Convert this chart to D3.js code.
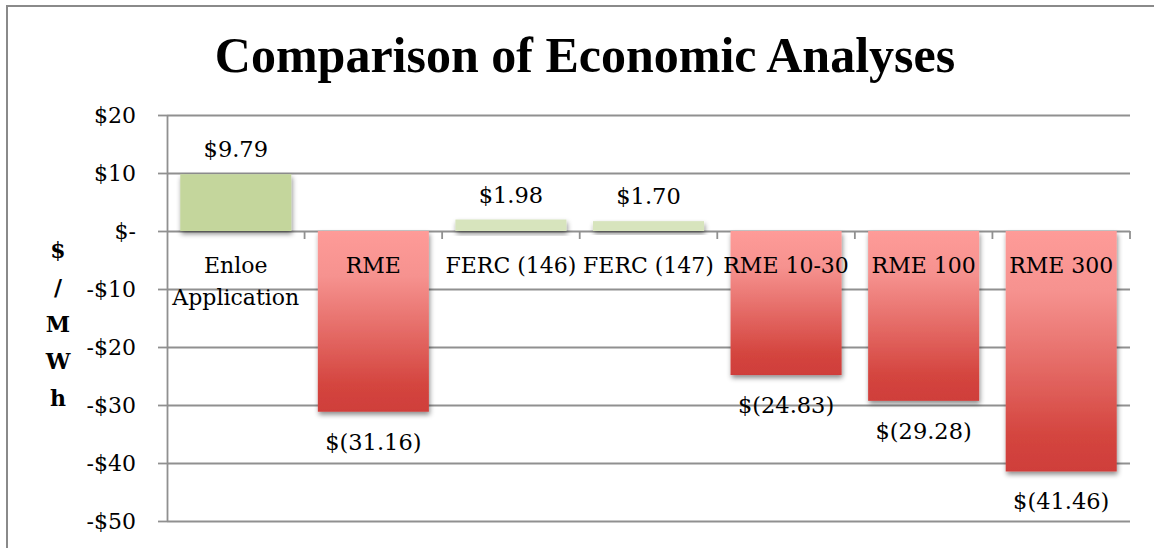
<!DOCTYPE html>
<html>
<head>
<meta charset="utf-8">
<script src="https://cdn.jsdelivr.net/npm/d3@7"></script>
<style>
  body { margin: 0; background: #fff; }
  text { font-family: "DejaVu Serif", serif; fill: #000; }
</style>
</head>
<body>
<div id="chart"></div>
<script>
////// DATA
var categories = ["Enloe\nApplication", "RME", "FERC (146)", "FERC (147)", "RME 10-30", "RME 100", "RME 300"];
var values = [9.79, -31.16, 1.98, 1.70, -24.83, -29.28, -41.46];
var yTicks = [20, 10, 0, -10, -20, -30, -40, -50];
var titleText = "Comparison of Economic Analyses";
var yTitleLetters = ["$", "/", "M", "W", "h"];

////// SETUP SVG
var W = 1154, H = 548;
var margin = { top: 115, right: 24, bottom: 27, left: 167 },
    width = W - margin.left - margin.right,
    height = H - margin.top - margin.bottom;

var svg = d3.select("#chart")
    .append("svg")
    .attr("width", W)
    .attr("height", H);

var defs = svg.append("defs");

// red gradient for negative bars
var grad = defs.append("linearGradient")
    .attr("id", "redGrad")
    .attr("x1", 0).attr("y1", 0).attr("x2", 0).attr("y2", 1);
grad.append("stop").attr("offset", "0%").attr("stop-color", "#fe9b98");
grad.append("stop").attr("offset", "25%").attr("stop-color", "#f6928f");
grad.append("stop").attr("offset", "85%").attr("stop-color", "#d4453f");
grad.append("stop").attr("offset", "100%").attr("stop-color", "#cf3e3a");

// soft shadow under bars
var shadow = defs.append("filter")
    .attr("id", "shadow")
    .attr("x", "-20%").attr("y", "-20%")
    .attr("width", "140%").attr("height", "160%");
shadow.append("feDropShadow")
    .attr("dx", 1).attr("dy", 3)
    .attr("stdDeviation", 2.5)
    .attr("flood-color", "#000")
    .attr("flood-opacity", 0.45);

// outer frame
svg.append("rect")
    .attr("x", 7).attr("y", 6)
    .attr("width", 1170).attr("height", 580)
    .attr("fill", "none")
    .attr("stroke", "#8a8a8a")
    .attr("stroke-width", 2);

// title
svg.append("text")
    .attr("x", 585).attr("y", 72)
    .attr("text-anchor", "middle")
    .style("font-family", "'Liberation Serif', serif")
    .style("font-weight", "bold")
    .style("font-size", "50px")
    .text(titleText);

var g = svg.append("g")
    .attr("transform", "translate(" + margin.left + "," + margin.top + ")");

////// SCALES
var x = d3.scaleBand()
    .domain(categories)
    .range([0, width])
    .paddingInner(0.193)
    .paddingOuter(0.0965);

var y = d3.scaleLinear()
    .domain([-50, 20])
    .range([height, 0]);

var fmtTick = function(d) {
    if (d === 0) return "$-";
    return (d < 0 ? "-$" : "$") + Math.abs(d);
};
var fmtVal = function(d) {
    return d < 0 ? "$(" + d3.format(".2f")(-d) + ")" : "$" + d3.format(".2f")(d);
};

////// GRIDLINES
g.append("g")
    .call(d3.axisLeft(y).tickValues(yTicks).tickSize(-width).tickFormat(""))
    .call(function(a) {
        a.select(".domain").remove();
        a.selectAll("line").attr("stroke", "#909090").attr("stroke-width", 1.8);
    });

////// Y AXIS
g.append("g")
    .call(d3.axisLeft(y).tickValues(yTicks).tickSize(9).tickSizeOuter(0).tickPadding(22).tickFormat(fmtTick))
    .call(function(a) {
        a.select(".domain").attr("stroke", "#909090").attr("stroke-width", 1.8);
        a.selectAll("line").attr("stroke", "#909090").attr("stroke-width", 1.8);
        a.selectAll("text")
            .style("font-family", "'DejaVu Serif', serif")
            .style("font-size", "22px")
            .attr("fill", "#000")
            .attr("dy", "0.36em");
    });

// category boundary ticks on the zero line
g.append("g").selectAll("line")
    .data(d3.range(1, categories.length + 1))
    .enter().append("line")
    .attr("x1", function(i) { return i * x.step(); })
    .attr("x2", function(i) { return i * x.step(); })
    .attr("y1", y(0))
    .attr("y2", y(0) + 8)
    .attr("stroke", "#909090")
    .attr("stroke-width", 1.8);

////// BARS
var greenColor = d3.scaleLinear().domain([2, 10]).range(["#d7e4bd", "#c4d69b"]).clamp(true);

g.selectAll(".bar")
    .data(values)
    .enter().append("rect")
    .attr("class", "bar")
    .attr("x", function(d, i) { return x(categories[i]); })
    .attr("width", x.bandwidth())
    .attr("y", function(d) { return y(Math.max(0, d)); })
    .attr("height", function(d) { return Math.abs(y(d) - y(0)); })
    .attr("fill", function(d) { return d < 0 ? "url(#redGrad)" : greenColor(d); })
    .attr("filter", "url(#shadow)");

////// VALUE LABELS
g.selectAll(".val")
    .data(values)
    .enter().append("text")
    .attr("class", "val")
    .attr("x", function(d, i) { return x(categories[i]) + x.bandwidth() / 2; })
    .attr("y", function(d) { return d < 0 ? y(d) + 38 : y(d) - 17; })
    .attr("text-anchor", "middle")
    .style("font-size", "22.5px")
    .text(fmtVal);

////// CATEGORY LABELS
var cat = g.selectAll(".cat")
    .data(categories)
    .enter().append("text")
    .attr("class", "cat")
    .attr("text-anchor", "middle")
    .attr("transform", function(d) { return "translate(" + (x(d) + x.bandwidth() / 2) + "," + (y(0) + 42) + ")"; })
    .style("font-size", "22px");

cat.selectAll("tspan")
    .data(function(d) { return d.split("\n"); })
    .enter().append("tspan")
    .attr("x", 0)
    .attr("y", function(d, i) { return i * 32; })
    .text(function(d) { return d; });

////// Y AXIS TITLE (stacked letters)
svg.append("g").selectAll("text")
    .data(yTitleLetters)
    .enter().append("text")
    .attr("x", 58)
    .attr("y", function(d, i) { return 258 + i * 37; })
    .attr("text-anchor", "middle")
    .style("font-weight", "bold")
    .style("font-size", "22px")
    .text(function(d) { return d; });
</script>
</body>
</html>
